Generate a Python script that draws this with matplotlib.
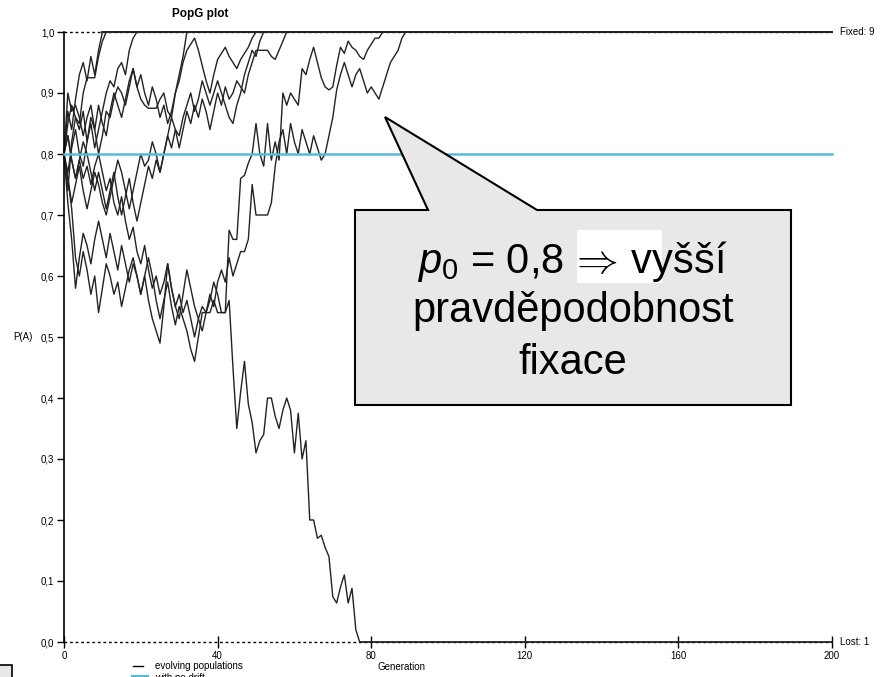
import matplotlib
matplotlib.use('Agg')
import matplotlib.pyplot as plt
from matplotlib.patches import Polygon, Rectangle
from matplotlib.lines import Line2D

plt.rcParams['font.family'] = ['Liberation Sans', 'DejaVu Sans']
plt.rcParams['mathtext.fontset'] = 'custom'
plt.rcParams['mathtext.rm'] = 'Liberation Sans'
plt.rcParams['mathtext.it'] = 'Liberation Sans:italic'

# allele frequency P(A) per generation, until fixation or loss
pop1 = [0.80, 0.87, 0.84, 0.89, 0.93, 0.95, 0.92, 0.96, 0.93, 0.97, 1.00]
pop2 = [0.80, 0.74, 0.82, 0.86, 0.85, 0.90, 0.925, 0.925, 0.925, 0.96, 0.985, 1.00]
pop3 = [0.80, 0.85, 0.88, 0.86, 0.84, 0.87, 0.82, 0.85, 0.81, 0.84,
        0.87, 0.90, 0.92, 0.91, 0.94, 0.95, 0.93, 0.97, 0.99, 1.00]
pop4 = [0.80, 0.90, 0.87, 0.88, 0.86, 0.83, 0.86, 0.88, 0.84, 0.80,
        0.83, 0.87, 0.86, 0.89, 0.91, 0.90, 0.88, 0.91, 0.94, 0.91,
        0.89, 0.88, 0.875, 0.875, 0.875, 0.89, 0.90, 0.87, 0.86, 0.90,
        0.93, 0.96, 1.00]
pop5 = [0.80, 0.77, 0.81, 0.84, 0.80, 0.78, 0.82, 0.86, 0.84, 0.88,
        0.85, 0.83, 0.87, 0.90, 0.88, 0.86, 0.89, 0.92, 0.94, 0.91,
        0.93, 0.90, 0.88, 0.91, 0.89, 0.86, 0.88, 0.85, 0.87, 0.90,
        0.92, 0.95, 0.97, 0.98, 0.99, 0.97, 0.945, 0.92, 0.90, 0.93,
        0.955, 0.965, 0.975, 0.96, 0.95, 0.94, 0.955, 0.965, 0.975, 0.99,
        1.00]
pop6 = [0.80, 0.83, 0.79, 0.76, 0.79, 0.82, 0.80, 0.77, 0.74, 0.77,
        0.74, 0.71, 0.74, 0.77, 0.73, 0.70, 0.73, 0.76, 0.72, 0.69,
        0.72, 0.75, 0.78, 0.76, 0.79, 0.77, 0.80, 0.83, 0.81, 0.84,
        0.83, 0.86, 0.88, 0.90, 0.87, 0.89, 0.92, 0.90, 0.88, 0.90,
        0.92, 0.90, 0.88, 0.86, 0.85, 0.88, 0.90, 0.93, 0.95, 0.97,
        0.96, 0.985, 1.00]
pop7 = [0.80, 0.76, 0.72, 0.75, 0.78, 0.74, 0.71, 0.74, 0.77, 0.75,
        0.72, 0.70, 0.73, 0.76, 0.79, 0.77, 0.74, 0.71, 0.74, 0.77,
        0.80, 0.78, 0.79, 0.82, 0.80, 0.77, 0.80, 0.83, 0.86, 0.84,
        0.81, 0.84, 0.87, 0.85, 0.88, 0.86, 0.89, 0.87, 0.84, 0.87,
        0.90, 0.88, 0.91, 0.89, 0.90, 0.92, 0.91, 0.90, 0.93, 0.95,
        0.97, 0.97, 0.97, 0.97, 0.96, 0.955, 0.97, 0.985, 1.00]
pop8 = [0.80, 0.72, 0.66, 0.58, 0.63, 0.67, 0.65, 0.62, 0.66, 0.69,
        0.66, 0.63, 0.67, 0.64, 0.61, 0.65, 0.62, 0.59, 0.62, 0.60,
        0.57, 0.60, 0.63, 0.60, 0.56, 0.53, 0.56, 0.59, 0.55, 0.52,
        0.55, 0.53, 0.51, 0.48, 0.46, 0.50, 0.54, 0.54, 0.54, 0.56,
        0.54, 0.54, 0.54, 0.675, 0.66, 0.66, 0.76, 0.765, 0.785, 0.80,
        0.85, 0.80, 0.78, 0.85, 0.79, 0.82, 0.79, 0.90, 0.88, 0.90,
        0.89, 0.88, 0.94, 0.93, 0.955, 0.975, 0.95, 0.925, 0.91, 0.905,
        0.91, 0.945, 0.975, 0.965, 0.985, 0.975, 0.97, 0.96, 0.955, 0.97,
        0.98, 0.99, 0.99, 1.00]
pop9 = [0.80, 0.76, 0.71, 0.63, 0.60, 0.64, 0.61, 0.57, 0.60, 0.54,
        0.58, 0.62, 0.60, 0.57, 0.59, 0.55, 0.58, 0.61, 0.63, 0.60,
        0.57, 0.60, 0.56, 0.53, 0.51, 0.49, 0.55, 0.62, 0.58, 0.55,
        0.53, 0.57, 0.61, 0.58, 0.55, 0.53, 0.51, 0.54, 0.57, 0.55,
        0.59, 0.61, 0.59, 0.63, 0.60, 0.62, 0.64, 0.64, 0.66, 0.75,
        0.70, 0.70, 0.70, 0.70, 0.72, 0.78, 0.82, 0.84, 0.80, 0.85,
        0.82, 0.80, 0.84, 0.82, 0.80, 0.83, 0.81, 0.79, 0.80, 0.83,
        0.86, 0.905, 0.93, 0.95, 0.93, 0.91, 0.93, 0.94, 0.92, 0.90,
        0.91, 0.90, 0.89, 0.91, 0.93, 0.95, 0.96, 0.97, 0.99, 1.00]
pop_lost = [0.80, 0.83, 0.79, 0.76, 0.79, 0.76, 0.78, 0.75, 0.78, 0.80,
            0.77, 0.74, 0.76, 0.72, 0.70, 0.73, 0.69, 0.66, 0.68, 0.64,
            0.62, 0.65, 0.61, 0.58, 0.60, 0.57, 0.59, 0.62, 0.58, 0.55,
            0.57, 0.54, 0.56, 0.53, 0.50, 0.53, 0.55, 0.54, 0.56, 0.59,
            0.57, 0.54, 0.54, 0.56, 0.45, 0.35, 0.41, 0.46, 0.39, 0.36,
            0.31, 0.33, 0.34, 0.40, 0.40, 0.37, 0.35, 0.38, 0.40, 0.38,
            0.31, 0.375, 0.30, 0.33, 0.20, 0.20, 0.17, 0.175, 0.155, 0.14,
            0.074, 0.064, 0.09, 0.11, 0.064, 0.088, 0.02, 0.00]
populations = [pop1, pop2, pop3, pop4, pop5, pop6, pop7, pop8, pop9, pop_lost]

p_start = 0.8
n_gen = 200
x_ticks = [0, 40, 80, 120, 160, 200]
y_ticks = [0.0, 0.1, 0.2, 0.3, 0.4, 0.5, 0.6, 0.7, 0.8, 0.9, 1.0]
y_labels = [('%.1f' % v).replace('.', ',') for v in y_ticks]
n_fixed = sum(1 for p in populations if p[-1] == 1.0)
n_lost = sum(1 for p in populations if p[-1] == 0.0)

W, H = 883, 677
fig = plt.figure(figsize=(W / 100, H / 100), dpi=100)


def fx(x):
    return x / W


def fy(y):
    return 1 - y / H


ax = fig.add_axes([fx(64), fy(642), fx(832) - fx(64), fy(32) - fy(642)])
ax.set_xlim(0, n_gen)
ax.set_ylim(0, 1)

# dotted boundaries at 0 and 1
ax.plot([0, n_gen], [1, 1], color='black', lw=1, ls=(0, (2, 2)), clip_on=False)
ax.plot([0, n_gen], [0, 0], color='black', lw=1, ls=(0, (2, 2)), clip_on=False)

ax.plot([0, n_gen], [p_start, p_start], color='#55BBD9', lw=1.8, clip_on=False, zorder=3)

for pop in populations:
    gens = list(range(len(pop)))
    ax.plot(gens, pop, color='#222222', lw=1.0, clip_on=False, zorder=2)
    ax.plot([gens[-1], n_gen], [pop[-1], pop[-1]], color='#222222', lw=1.3,
            clip_on=False, zorder=2)

for s in ['top', 'right', 'bottom']:
    ax.spines[s].set_visible(False)
ax.spines['left'].set_linewidth(1.2)

ax.set_xticks(x_ticks)
ax.set_xticklabels([str(t) for t in x_ticks])
ax.set_yticks(y_ticks)
ax.set_yticklabels(y_labels)
ax.tick_params(axis='x', direction='inout', length=9, width=1, labelsize=7, pad=2)
ax.tick_params(axis='y', direction='out', length=5, width=1, labelsize=7, pad=2)

ax.set_ylabel('P(A)', rotation=0, fontsize=7, ha='right', va='center')
ax.yaxis.set_label_coords(-0.041, 0.5)

fig.text(fx(200), fy(14), 'PopG plot', fontsize=8.5, fontweight='bold', ha='center', va='center')
fig.text(fx(840), fy(32), 'Fixed: %d' % n_fixed, fontsize=7, ha='left', va='center')
fig.text(fx(840), fy(642), 'Lost: %d' % n_lost, fontsize=7, ha='left', va='center')
fig.text(fx(402), fy(667), 'Generation', fontsize=7, ha='center', va='center')

# legend below the axis (second entry is cut by the image edge, as in the original)
fig.add_artist(Line2D([fx(133), fx(143)], [fy(666), fy(666)], color='black', lw=1))
fig.text(fx(155), fy(666), 'evolving populations', fontsize=7, ha='left', va='center')
fig.add_artist(Line2D([fx(133), fx(147)], [fy(677), fy(677)], color='#55BBD9', lw=3))
fig.text(fx(155), fy(678), 'with no drift', fontsize=7, ha='left', va='center')

# callout
pts = [(355, 210), (428, 210), (385, 117), (537, 210), (791, 210), (791, 405), (355, 405)]
fig.add_artist(Polygon([(fx(x), fy(y)) for x, y in pts], closed=True,
                       facecolor='#E8E8E8', edgecolor='black', lw=1.5, zorder=5))
fig.add_artist(Rectangle((fx(577), fy(283)), fx(662) - fx(577), fy(230) - fy(283),
                         facecolor='white', edgecolor='none', zorder=6))
fig.text(fx(572), fy(273), r'$p_0$ = 0,8 $\!{\Rightarrow}\!$ vyšší', fontsize=30,
         ha='center', va='baseline', zorder=7)
fig.text(fx(573), fy(322), 'pravděpodobnost', fontsize=30, ha='center', va='baseline', zorder=7)
fig.text(fx(573), fy(374), 'fixace', fontsize=30, ha='center', va='baseline', zorder=7)

# stray box in the lower left corner
fig.add_artist(Rectangle((fx(-3), fy(680)), fx(12) - fx(-3), fy(665) - fy(680),
                         facecolor='#E8E8E8', edgecolor='black', lw=1.2, zorder=5))

fig.savefig('out.png', dpi=100)
